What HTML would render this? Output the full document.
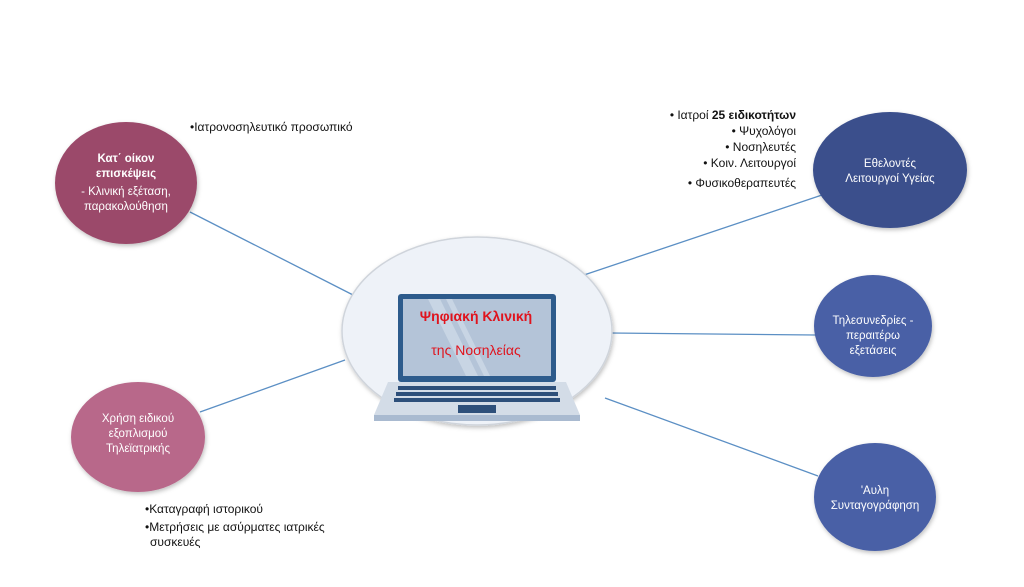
<!DOCTYPE html>
<html><head><meta charset="utf-8"><style>
body{margin:0;background:#fff;width:1024px;height:587px;overflow:hidden}
svg{display:block}
text{font-family:"Liberation Sans","DejaVu Sans",sans-serif}
</style></head><body>
<svg width="1024" height="587" viewBox="0 0 1024 587">
<defs>
<filter id="sh" x="-20%" y="-20%" width="140%" height="140%"><feDropShadow dx="1" dy="2" stdDeviation="2" flood-opacity="0.25"/></filter>
</defs>
<g stroke="#5b8fc4" stroke-width="1.3">
<line x1="190" y1="212" x2="357" y2="297"/>
<line x1="200" y1="412" x2="345" y2="360"/>
<line x1="578" y1="277" x2="822" y2="195"/>
<line x1="610" y1="333" x2="815" y2="335"/>
<line x1="605" y1="398" x2="818" y2="476"/>
</g>
<ellipse cx="477" cy="331" rx="135" ry="94" fill="#eef2f8" stroke="#cfd4db" stroke-width="1.5" filter="url(#sh)"/>
<rect x="398" y="294" width="158" height="88" rx="3" fill="#2d5b8c"/>
<rect x="403" y="299" width="148" height="77" fill="#b4c4d8"/>
<polygon points="428,299 440,299 478,376 466,376" fill="#c8d5e4"/>
<polygon points="446,299 452,299 490,376 484,376" fill="#c8d5e4"/>
<polygon points="388,382 566,382 580,415 374,415" fill="#d3dce7"/>
<rect x="374" y="415" width="206" height="6" fill="#a9bad0"/>
<g fill="#2d4f7a">
<rect x="398" y="386" width="158" height="4"/>
<rect x="396" y="392" width="162" height="4"/>
<rect x="394" y="398" width="166" height="4"/>
</g>
<rect x="458" y="405" width="38" height="8" fill="#2d4f7a"/>
<text x="476" y="321" text-anchor="middle" font-size="14" font-weight="bold" fill="#e0131d">Ψηφιακή Κλινική</text>
<text x="476" y="355" text-anchor="middle" font-size="14" fill="#e0131d">της Νοσηλείας</text>
<ellipse cx="126" cy="183" rx="71" ry="61" fill="#9b4a6a" filter="url(#sh)"/>
<text x="126" y="162" text-anchor="middle" font-size="11.5" font-weight="bold" fill="#fff">Κατ΄ οίκον</text>
<text x="126" y="177" text-anchor="middle" font-size="11.5" font-weight="bold" fill="#fff">επισκέψεις</text>
<text x="126" y="195" text-anchor="middle" font-size="11.5" fill="#fff">- Κλινική εξέταση,</text>
<text x="126" y="210" text-anchor="middle" font-size="11.5" fill="#fff">παρακολούθηση</text>
<ellipse cx="138" cy="437" rx="67" ry="55" fill="#b8688a" filter="url(#sh)"/>
<text x="138" y="422" text-anchor="middle" font-size="11.5" fill="#fff">Χρήση ειδικού</text>
<text x="138" y="437" text-anchor="middle" font-size="11.5" fill="#fff">εξοπλισμού</text>
<text x="138" y="452" text-anchor="middle" font-size="11.5" fill="#fff">Τηλεϊατρικής</text>
<ellipse cx="890" cy="170" rx="77" ry="58" fill="#3a4f8c" filter="url(#sh)"/>
<text x="890" y="167" text-anchor="middle" font-size="11.5" fill="#fff">Εθελοντές</text>
<text x="890" y="182" text-anchor="middle" font-size="11.5" fill="#fff">Λειτουργοί Υγείας</text>
<ellipse cx="873" cy="326" rx="59" ry="51" fill="#4961a6" filter="url(#sh)"/>
<text x="873" y="324" text-anchor="middle" font-size="11.5" fill="#fff">Τηλεσυνεδρίες -</text>
<text x="873" y="339" text-anchor="middle" font-size="11.5" fill="#fff">περαιτέρω</text>
<text x="873" y="354" text-anchor="middle" font-size="11.5" fill="#fff">εξετάσεις</text>
<ellipse cx="875" cy="497" rx="61" ry="54" fill="#4961a6" filter="url(#sh)"/>
<text x="875" y="494" text-anchor="middle" font-size="11.5" fill="#fff">'Αυλη</text>
<text x="875" y="509" text-anchor="middle" font-size="11.5" fill="#fff">Συνταγογράφηση</text>
<g font-size="12" fill="#111">
<text x="190" y="131">•Ιατρονοσηλευτικό προσωπικό</text>
<text x="796" y="119" text-anchor="end">• Ιατροί <tspan font-weight="bold">25 ειδικοτήτων</tspan></text>
<text x="796" y="135" text-anchor="end">• Ψυχολόγοι</text>
<text x="796" y="151" text-anchor="end">• Νοσηλευτές</text>
<text x="796" y="167" text-anchor="end">• Κοιν. Λειτουργοί</text>
<text x="796" y="187" text-anchor="end">• Φυσικοθεραπευτές</text>
<text x="145" y="513">•Καταγραφή ιστορικού</text>
<text x="145" y="531">•Μετρήσεις με ασύρματες ιατρικές</text>
<text x="150" y="546">συσκευές</text>
</g>
</svg>
</body></html>
